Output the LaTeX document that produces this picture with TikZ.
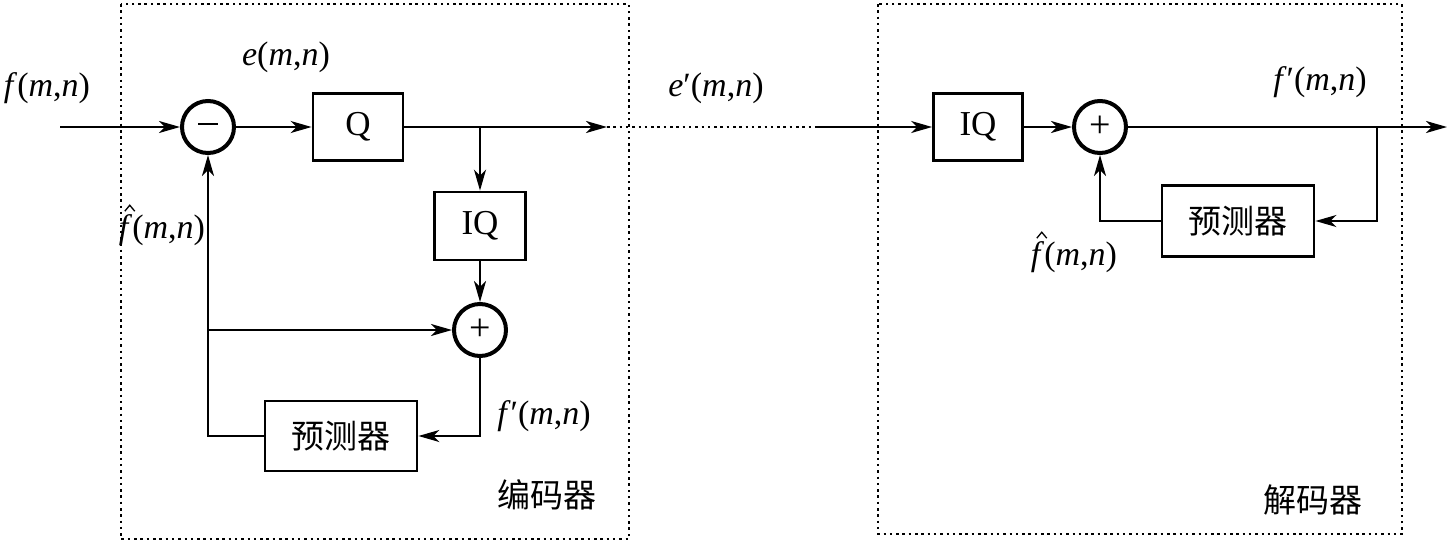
\documentclass[tikz,border=0pt]{standalone}
\usepackage{fontspec}
\setmainfont{Liberation Serif}
\newfontfamily\cjk{Noto Sans CJK SC}
\usetikzlibrary{arrows.meta}
\begin{document}
\begin{tikzpicture}[x=1pt,y=-1pt,
  blk/.style={draw, line width=2.8pt, inner sep=0pt, font=\fontsize{35}{40}\selectfont},
  sumc/.style={circle, draw, line width=4pt, minimum size=52pt, inner sep=0pt, font=\fontsize{38}{40}\selectfont},
  arr/.style={line width=2.2pt, -{Stealth[length=21pt,width=12pt,inset=6pt]}},
  dotline/.style={line width=2.5pt, dash pattern=on 2.5pt off 3.8pt},
  dotbox/.style={line width=2.5pt, dash pattern=on 2.5pt off 3.8pt},
  hatmark/.style={line width=1.3pt, line join=miter},
  minusmark/.style={line width=2.4pt},
  lab/.style={font=\fontsize{34}{40}\selectfont, inner sep=0pt},
  clab/.style={font=\cjk\fontsize{33}{40}\selectfont, inner sep=0pt}]
\useasboundingbox (0,0) rectangle (1452,544);
% frames
\draw[dotbox] (121,4) rectangle (629,539);
\draw[dotbox] (878,4) rectangle (1402,534);
% encoder
\coordinate (in) at (60,127);
\node[sumc] (s1) at (208,127) {};
\draw[minusmark] ([shift={(-10,-3)}]s1.center) -- ++(20,0);
\node[blk, minimum width=90pt, minimum height=67pt] (q) at (358,127) {Q};
\coordinate (br1) at (480,127);
\coordinate (o1) at (607,127);
\node[blk, minimum width=91pt, minimum height=68pt] (iq1) at (480,226) {IQ};
\node[sumc] (s2) at (480,330) {+};
\node[blk, minimum width=152pt, minimum height=70pt, font=\cjk\fontsize{33}{40}\selectfont] (p1) at (341,436) {预测器};
\coordinate (j1) at (208,330);
\draw[arr] (in) -- (s1);
\draw[arr] (s1) -- (q);
\draw[arr] (q) -- (o1);
\draw[arr] (br1) -- (iq1);
\draw[arr] (iq1) -- (s2);
\draw[arr] (s2) |- (p1);
\draw[arr] (p1) -| (s1);
\draw[arr] (j1) -- (s2);
% channel
\coordinate (i2) at (815,127);
\draw[dotline] (o1) -- (i2);
% decoder
\node[blk, minimum width=89pt, minimum height=67pt] (iq2) at (978,127) {IQ};
\node[sumc] (s3) at (1100,127) {+};
\coordinate (br2) at (1377,127);
\coordinate (out) at (1447,127);
\node[blk, minimum width=152pt, minimum height=71pt, font=\cjk\fontsize{33}{40}\selectfont] (p2) at (1238,221) {预测器};
\draw[arr] (i2) -- (iq2);
\draw[arr] (iq2) -- (s3);
\draw[arr] (s3) -- (out);
\draw[arr] (br2) |- (p2);
\draw[arr] (p2) -| (s3);
% labels
\node[lab] (lf) at (47,88) {\textit{f}(\textit{m},\textit{n})};
\node[lab] (le) at (286,57) {\textit{e}(\textit{m},\textit{n})};
\node[lab] (lfh1) at (162,230) {\textit{f}(\textit{m},\textit{n})};
\node[lab] (lfp1) at (544,416) {\textit{f}′(\textit{m},\textit{n})};
\node[lab] (lep) at (716,88) {\textit{e}′(\textit{m},\textit{n})};
\node[lab] (lfp2) at (1320,82) {\textit{f}′(\textit{m},\textit{n})};
\node[lab] (lfh2) at (1074,257) {\textit{f}(\textit{m},\textit{n})};
\node[clab] (enc) at (547,495) {编码器};
\node[clab] (dec) at (1313,500) {解码器};
% hats over f
\draw[hatmark] ([shift={(6,-3)}]lfh1.north west) -- ++(5,-6) -- ++(5,6);
\draw[hatmark] ([shift={(6,-3)}]lfh2.north west) -- ++(5,-6) -- ++(5,6);
\end{tikzpicture}
\end{document}
